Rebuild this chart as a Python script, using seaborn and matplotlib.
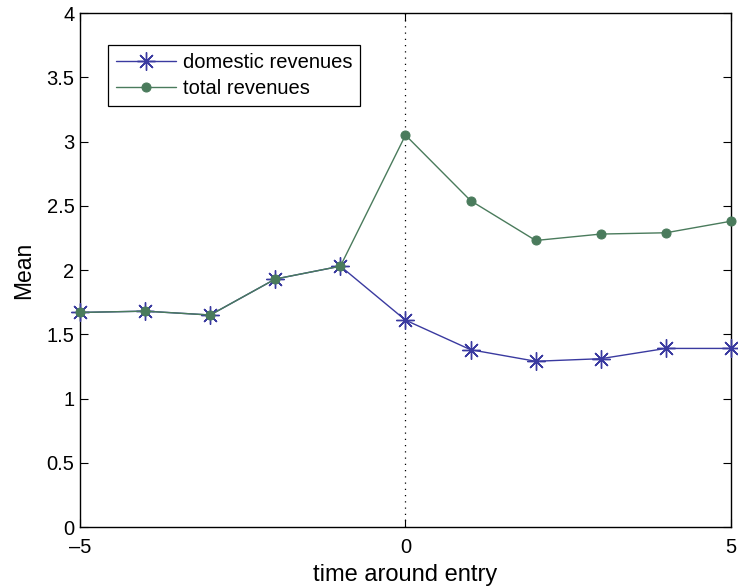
import matplotlib
matplotlib.use("Agg")
import matplotlib.pyplot as plt
import seaborn as sns
import pandas as pd

# Mean revenues by year relative to entry
years = [-5, -4, -3, -2, -1, 0, 1, 2, 3, 4, 5]
domestic = [1.67, 1.68, 1.65, 1.93, 2.03, 1.61, 1.38, 1.29, 1.31, 1.39, 1.39]
total = [1.67, 1.68, 1.65, 1.93, 2.03, 3.05, 2.54, 2.23, 2.28, 2.29, 2.38]

series_names = ["domestic revenues", "total revenues"]
colors = ["#3a3aa0", "#4a7b5c"]

x_ticks = [-5, 0, 5]
x_tick_labels = ["\u20135", "0", "5"]
y_ticks = [0, 0.5, 1, 1.5, 2, 2.5, 3, 3.5, 4]
y_tick_labels = ["0", "0.5", "1", "1.5", "2", "2.5", "3", "3.5", "4"]

sns.set_style("white")
plt.rcParams["font.family"] = ["Liberation Sans", "DejaVu Sans"]
plt.rcParams["text.color"] = "black"
plt.rcParams["axes.labelcolor"] = "black"
plt.rcParams["xtick.color"] = "black"
plt.rcParams["ytick.color"] = "black"

df = pd.DataFrame({"t": years * 2,
                   "value": domestic + total,
                   "series": [series_names[0]] * len(years) + [series_names[1]] * len(years)})

fig = plt.figure(figsize=(7.38, 5.88), dpi=100)
ax = fig.add_axes([0.1084, 0.1037, 0.8821, 0.8741])

ax.axvline(0, color="black", linestyle=(0, (1, 4)), linewidth=0.9, zorder=1)

# asterisk marker: plus and cross combined
sns.lineplot(data=df[df.series == series_names[0]], x="t", y="value", ax=ax,
             color=colors[0], marker=(8, 2, 0), markersize=13, markeredgewidth=1.0,
             markeredgecolor=colors[0], linewidth=1.0, label=series_names[0],
             zorder=3, clip_on=False)
sns.lineplot(data=df[df.series == series_names[1]], x="t", y="value", ax=ax,
             color=colors[1], marker="o", markersize=6.5, markeredgecolor=colors[1],
             linewidth=1.0, label=series_names[1], zorder=4, clip_on=False)

ax.set_xlim(-5, 5)
ax.set_ylim(0, 4)
ax.set_xticks(x_ticks)
ax.set_xticklabels(x_tick_labels)
ax.set_yticks(y_ticks)
ax.set_yticklabels(y_tick_labels)
ax.tick_params(direction="in", length=6, width=0.8, labelsize=14.5, top=True, right=True,
               bottom=True, left=True, colors="black")
ax.tick_params(axis="x", pad=8)
ax.tick_params(axis="y", pad=4)
ax.set_xlabel("time around entry", fontsize=17, labelpad=5, color="black")
ax.set_ylabel("Mean", fontsize=16.5, labelpad=8, color="black")
for s in ax.spines.values():
    s.set_visible(True)
    s.set_color("black")
    s.set_linewidth(1.0)

leg = ax.legend(loc="upper left", bbox_to_anchor=(0.043, 0.938), borderaxespad=0,
                fontsize=14.5, frameon=True, fancybox=False, edgecolor="black",
                framealpha=1, handlelength=3.0, borderpad=0.4, labelspacing=0.36,
                handletextpad=0.3)
leg.get_frame().set_linewidth(0.9)
for t in leg.get_texts():
    t.set_color("black")

fig.savefig("out.png", dpi=100)
